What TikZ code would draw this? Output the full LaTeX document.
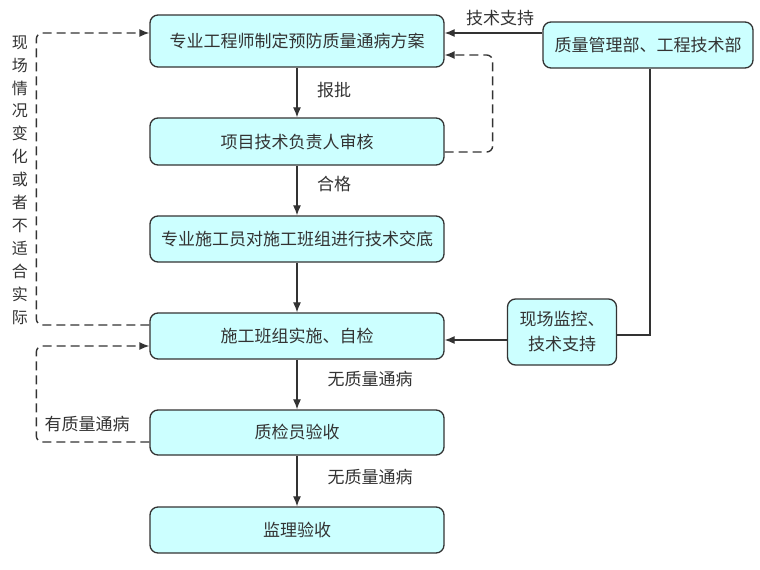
\documentclass[tikz,border=0pt]{standalone}
\usepackage{fontspec}
\setmainfont{Noto Sans CJK SC}
\usetikzlibrary{arrows.meta}
\definecolor{boxc}{HTML}{CCFFFF}
\definecolor{ln}{HTML}{333333}
\begin{document}
\begin{tikzpicture}[x=1pt,y=-1pt,
  box/.style={draw=ln,fill=boxc,rounded corners=8pt,line width=1.3pt,
    font=\fontsize{17}{19}\selectfont,text=ln,inner sep=0pt,align=center},
  lbl/.style={font=\fontsize{17}{19}\selectfont,text=ln,inner sep=0pt},
  arr/.style={draw=ln,line width=1.2pt,-{Latex[length=10pt,width=8pt]}},
  sol/.style={draw=ln,line width=1.2pt},
  dsh/.style={draw=ln,line width=1.4pt,dash pattern=on 9pt off 5pt,rounded corners=6pt}]
\useasboundingbox (0,0) rectangle (760,570);
\node[box,minimum width=294pt,minimum height=52pt] (b1) at (297,41) {专业工程师制定预防质量通病方案};
\node[box,minimum width=294pt,minimum height=47pt] (b2) at (297,141.5) {项目技术负责人审核};
\node[box,minimum width=294pt,minimum height=46pt] (b3) at (297,239) {专业施工员对施工班组进行技术交底};
\node[box,minimum width=294pt,minimum height=46pt] (b4) at (297,336) {施工班组实施、自检};
\node[box,minimum width=294pt,minimum height=45pt] (b5) at (297,432.5) {质检员验收};
\node[box,minimum width=294pt,minimum height=46pt] (b6) at (297,530) {监理验收};
\node[box,minimum width=210pt,minimum height=46pt] (A) at (648,45) {质量管理部、工程技术部};
\node[box,minimum width=109pt,minimum height=66pt,font=\fontsize{17}{25}\selectfont] (B) at (562,332) {现场监控、\\技术支持};

\draw[arr] (b1.south) -- (b2.north);
\draw[arr] (b2.south) -- (b3.north);
\draw[arr] (b3.south) -- (b4.north);
\draw[arr] (b4.south) -- (b5.north);
\draw[arr] (b5.south) -- (b6.north);

\draw[arr] ([yshift=12pt]A.west) -- ([yshift=12pt]A.west -| b1.east);
\draw[sol] ([xshift=2pt]A.south) |- ([yshift=-3pt]B.east);
\draw[arr] ([yshift=-8pt]B.west) -- ([yshift=-8pt]B.west -| b4.east);

\draw[dsh,-{Latex[length=10pt,width=8pt]}] ([yshift=-10.5pt]b2.east) -- ++(48,0) |- ([yshift=-14pt]b1.east);
\draw[dsh,-{Latex[length=10pt,width=8pt]}] ([yshift=11pt]b4.west) -- ++(-113,0) |- ([yshift=8pt]b1.west);
\draw[dsh,-{Latex[length=10pt,width=8pt]}] ([yshift=-9.5pt]b5.west) -- ++(-113,0) |- ([yshift=-10pt]b4.west);

\node[lbl] (l1) at (334,90) {报批};
\node[lbl] (l2) at (334,184) {合格};
\node[lbl] (l3) at (370,379) {无质量通病};
\node[lbl] (l4) at (370,477) {无质量通病};
\node[lbl] (l5) at (500,18) {技术支持};
\node[lbl] (l6) at (87,424) {有质量通病};
\node[lbl,align=center,font=\fontsize{16}{22.9}\selectfont] (lv) at (20,180) {现\\场\\情\\况\\变\\化\\或\\者\\不\\适\\合\\实\\际};
\end{tikzpicture}
\end{document}
